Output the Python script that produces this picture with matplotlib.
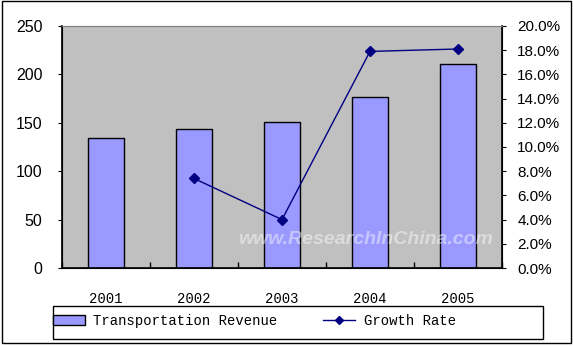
import numpy as np
import matplotlib
matplotlib.use("Agg")
import matplotlib.pyplot as plt
from matplotlib.patches import Rectangle
from matplotlib.lines import Line2D
from matplotlib.ticker import FuncFormatter

# data
years = ["2001", "2002", "2003", "2004", "2005"]
revenue = [134, 144, 150.5, 177, 210.5]
growth = [np.nan, 7.4, 4.0, 17.9, 18.1]  # percent

bar_color = "#9999FF"
line_color = "#000080"

fig = plt.figure(figsize=(5.73, 3.46), dpi=100)
ax = fig.add_axes([62 / 573, 1 - 268 / 346, 440 / 573, 242 / 346])
ax.set_facecolor("#C0C0C0")

x = np.arange(len(years))
ax.bar(x, revenue, 0.41, color=bar_color, edgecolor="black", linewidth=1, zorder=2)
ax.set_xlim(-0.5, 4.5)
ax.set_ylim(0, 250)
ax.set_yticks(range(0, 251, 50))
ax.set_xticks(x)
ax.set_xticklabels(years, family="Liberation Mono", fontsize=10)
ax.tick_params(axis="x", length=0, pad=17)
ax.set_xticks(np.arange(-0.5, 5, 1), minor=True)
ax.tick_params(axis="x", which="minor", direction="in", length=4, width=1)
ax.tick_params(axis="y", direction="out", length=3, labelsize=11.5, pad=11)
for lab in ax.get_yticklabels():
    lab.set_family("Liberation Sans")
for s in ["left", "bottom"]:
    ax.spines[s].set_color("black")
    ax.spines[s].set_linewidth(1.2)
ax.spines["top"].set_color("#808080")

ax2 = ax.twinx()
ax2.plot(x, growth, color=line_color, lw=1, marker="D", markersize=5, zorder=3)
ax2.set_ylim(0, 20)
ax2.set_yticks(np.arange(0, 20.1, 2))
ax2.yaxis.set_major_formatter(FuncFormatter(lambda v, p: "%.1f%%" % v))
ax2.tick_params(axis="y", direction="out", length=3, labelsize=11, pad=8)
for lab in ax2.get_yticklabels():
    lab.set_family("Liberation Sans")
ax2.spines["right"].set_color("black")
ax2.spines["right"].set_linewidth(1.2)
ax2.spines["top"].set_color("#808080")

# watermark
fig.text(238 / 573, 1 - 240 / 346, "www.ResearchInChina.com", color="white", alpha=0.45,
         fontsize=14, fontweight="bold", style="italic", family="Liberation Sans",
         ha="left", va="center")

# legend frame
fig.patches.append(Rectangle((53 / 573, 1 - 339 / 346), 490 / 573, 33 / 346,
                             transform=fig.transFigure, fill=False, edgecolor="black", lw=1))
handles = [Rectangle((0, 0), 1, 1, facecolor=bar_color, edgecolor="black", lw=1),
           Line2D([], [], color=line_color, lw=1, marker="D", markersize=4)]
leg = fig.legend(handles, ["Transportation Revenue", "Growth Rate"], ncol=2,
                 loc="center left", bbox_to_anchor=(53 / 573, 1 - 321 / 346),
                 prop={"family": "Liberation Mono", "size": 10},
                 frameon=False, borderaxespad=0, borderpad=0,
                 handlelength=2.3, handletextpad=0.6, columnspacing=3.3)

# outer frame
fig.patches.append(Rectangle((2 / 573, 1 - 343 / 346), 569 / 573, 342 / 346,
                             transform=fig.transFigure, fill=False, edgecolor="black", lw=1))

fig.savefig("out.png", dpi=100)
